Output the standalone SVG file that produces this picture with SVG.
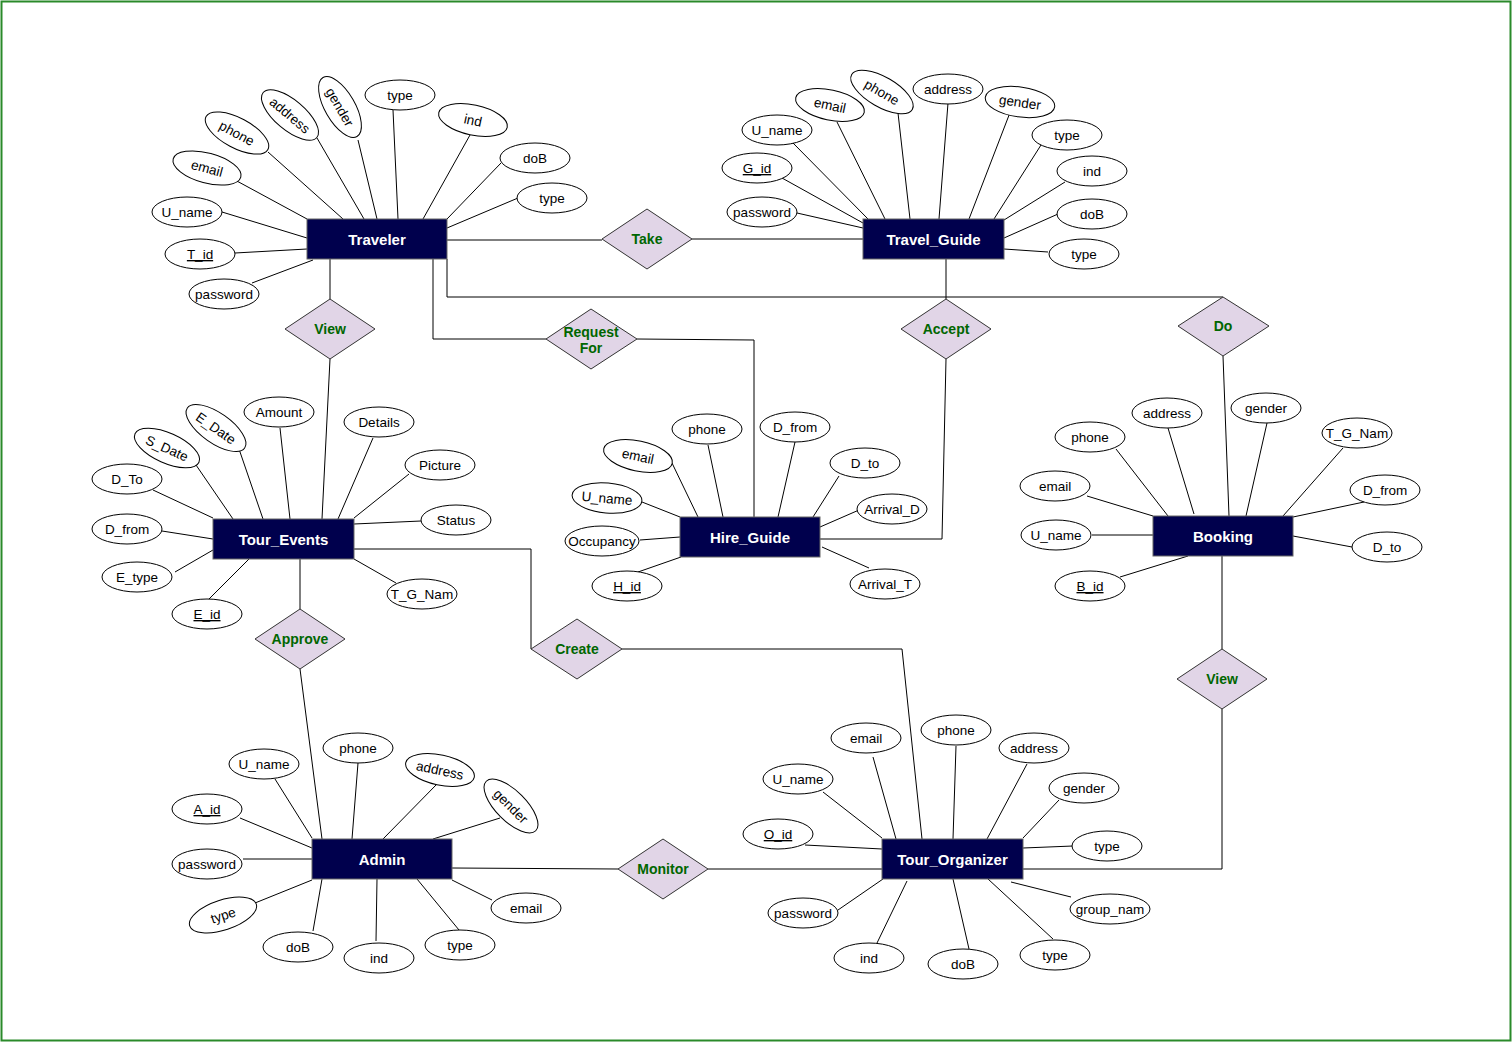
<svg xmlns="http://www.w3.org/2000/svg" width="1512" height="1042" viewBox="0 0 1512 1042">
<style>
.ln{stroke:#000;stroke-width:1;fill:none}
.ent rect{fill:#00004d;stroke:#666;stroke-width:1}
.ent text{fill:#fff;font-family:"Liberation Sans",Arial,sans-serif;font-weight:bold;font-size:15px;text-anchor:middle}
.rel polygon{fill:#e1d5e7;stroke:#333;stroke-width:1}
.rel text{fill:#006600;font-family:"Liberation Sans",Arial,sans-serif;font-weight:bold;font-size:14px;text-anchor:middle}
.at ellipse{fill:#fff;stroke:#000;stroke-width:1}
.at text{fill:#000;font-family:"Liberation Sans",Arial,sans-serif;font-size:13.5px;text-anchor:middle}
.u{text-decoration:underline}
</style>
<rect x="1.5" y="1.5" width="1509" height="1039" fill="#fff" stroke="#2a8a2a" stroke-width="2"/>
<g id="connectors">
<!-- relationship connectors -->
<polyline class="ln" points="447,240 602,240"/>
<polyline class="ln" points="692,239 863,239"/>
<polyline class="ln" points="330,259 330,299"/>
<polyline class="ln" points="330,359 322,519"/>
<polyline class="ln" points="433,259 433,339 546,339"/>
<polyline class="ln" points="637,339 754,340 754,517"/>
<polyline class="ln" points="447,259 447,297 1223,297"/>
<polyline class="ln" points="946,259 946,299"/>
<polyline class="ln" points="946,359 942,539 820,539"/>
<polyline class="ln" points="1223,356 1229,516"/>
<polyline class="ln" points="1222,556 1222,649"/>
<polyline class="ln" points="1222,709 1222,869 1023,869"/>
<polyline class="ln" points="354,549 531,549 531,649"/>
<polyline class="ln" points="622,649 902,649 922,839"/>
<polyline class="ln" points="300,559 300,609"/>
<polyline class="ln" points="300,669 322,839"/>
<polyline class="ln" points="452,868 618,869"/>
<polyline class="ln" points="708,869 882,869"/>
<!-- Traveler attributes -->
<line class="ln" x1="393" y1="110" x2="398" y2="219"/>
<line class="ln" x1="470" y1="135" x2="423" y2="219"/>
<line class="ln" x1="501" y1="163" x2="447" y2="219"/>
<line class="ln" x1="518" y1="198" x2="447" y2="228"/>
<line class="ln" x1="358" y1="140" x2="377" y2="219"/>
<line class="ln" x1="317" y1="138" x2="364" y2="219"/>
<line class="ln" x1="268" y1="152" x2="343" y2="219"/>
<line class="ln" x1="235" y1="180" x2="307" y2="219"/>
<line class="ln" x1="222" y1="212" x2="307" y2="238"/>
<line class="ln" x1="235" y1="253" x2="307" y2="249"/>
<line class="ln" x1="252" y1="283" x2="313" y2="260"/>
<!-- Travel_Guide attributes -->
<line class="ln" x1="797" y1="213" x2="863" y2="228"/>
<line class="ln" x1="782" y1="178" x2="863" y2="223"/>
<line class="ln" x1="793" y1="143" x2="868" y2="219"/>
<line class="ln" x1="837" y1="122" x2="885" y2="219"/>
<line class="ln" x1="898" y1="113" x2="910" y2="219"/>
<line class="ln" x1="948" y1="103" x2="939" y2="219"/>
<line class="ln" x1="1011" y1="110" x2="969" y2="219"/>
<line class="ln" x1="1041" y1="145" x2="994" y2="219"/>
<line class="ln" x1="1065" y1="182" x2="1004" y2="220"/>
<line class="ln" x1="1058" y1="214" x2="1004" y2="238"/>
<line class="ln" x1="1048" y1="252" x2="1004" y2="249"/>
<!-- Tour_Events attributes -->
<line class="ln" x1="280" y1="428" x2="290" y2="519"/>
<line class="ln" x1="239" y1="449" x2="263" y2="519"/>
<line class="ln" x1="196" y1="465" x2="233" y2="519"/>
<line class="ln" x1="153" y1="490" x2="213" y2="518"/>
<line class="ln" x1="162" y1="531" x2="213" y2="539"/>
<line class="ln" x1="175" y1="572" x2="213" y2="550"/>
<line class="ln" x1="208" y1="600" x2="249" y2="559"/>
<line class="ln" x1="373" y1="438" x2="338" y2="519"/>
<line class="ln" x1="409" y1="474" x2="354" y2="518"/>
<line class="ln" x1="421" y1="521" x2="354" y2="524"/>
<line class="ln" x1="396" y1="583" x2="354" y2="559"/>
<!-- Hire_Guide attributes -->
<line class="ln" x1="708" y1="445" x2="723" y2="517"/>
<line class="ln" x1="672" y1="463" x2="698" y2="517"/>
<line class="ln" x1="642" y1="502" x2="680" y2="517"/>
<line class="ln" x1="640" y1="540" x2="680" y2="537"/>
<line class="ln" x1="638" y1="572" x2="681" y2="557"/>
<line class="ln" x1="795" y1="442" x2="778" y2="517"/>
<line class="ln" x1="839" y1="476" x2="813" y2="517"/>
<line class="ln" x1="859" y1="510" x2="820" y2="527"/>
<line class="ln" x1="869" y1="568" x2="822" y2="547"/>
<!-- Booking attributes -->
<line class="ln" x1="1168" y1="428" x2="1194" y2="514"/>
<line class="ln" x1="1267" y1="423" x2="1246" y2="516"/>
<line class="ln" x1="1116" y1="449" x2="1168" y2="516"/>
<line class="ln" x1="1087" y1="496" x2="1153" y2="516"/>
<line class="ln" x1="1092" y1="535" x2="1153" y2="535"/>
<line class="ln" x1="1120" y1="577" x2="1188" y2="556"/>
<line class="ln" x1="1343" y1="448" x2="1283" y2="516"/>
<line class="ln" x1="1364" y1="502" x2="1293" y2="517"/>
<line class="ln" x1="1352" y1="547" x2="1293" y2="536"/>
<!-- Admin attributes -->
<line class="ln" x1="275" y1="779" x2="312" y2="838"/>
<line class="ln" x1="358" y1="763" x2="352" y2="839"/>
<line class="ln" x1="437" y1="784" x2="383" y2="839"/>
<line class="ln" x1="500" y1="818" x2="433" y2="839"/>
<line class="ln" x1="240" y1="818" x2="312" y2="848"/>
<line class="ln" x1="243" y1="859" x2="312" y2="859"/>
<line class="ln" x1="255" y1="903" x2="312" y2="880"/>
<line class="ln" x1="313" y1="931" x2="322" y2="879"/>
<line class="ln" x1="376" y1="941" x2="377" y2="879"/>
<line class="ln" x1="459" y1="930" x2="417" y2="879"/>
<line class="ln" x1="492" y1="900" x2="452" y2="880"/>
<!-- Tour_Organizer attributes -->
<line class="ln" x1="873" y1="757" x2="896" y2="839"/>
<line class="ln" x1="956" y1="746" x2="953" y2="839"/>
<line class="ln" x1="1027" y1="764" x2="987" y2="839"/>
<line class="ln" x1="1059" y1="800" x2="1023" y2="838"/>
<line class="ln" x1="823" y1="792" x2="882" y2="838"/>
<line class="ln" x1="805" y1="845" x2="882" y2="849"/>
<line class="ln" x1="1073" y1="846" x2="1023" y2="848"/>
<line class="ln" x1="1071" y1="897" x2="1011" y2="882"/>
<line class="ln" x1="838" y1="910" x2="883" y2="879"/>
<line class="ln" x1="877" y1="943" x2="907" y2="881"/>
<line class="ln" x1="969" y1="949" x2="953" y2="879"/>
<line class="ln" x1="1053" y1="939" x2="988" y2="879"/>
</g>
<!-- Entities -->
<g id="traveler" class="ent"><rect x="307" y="219" width="140" height="40"/><text x="377" y="245">Traveler</text></g>
<g id="travel_guide" class="ent"><rect x="863" y="219" width="141" height="40"/><text x="933.5" y="245">Travel_Guide</text></g>
<g id="tour_events" class="ent"><rect x="213" y="519" width="141" height="40"/><text x="283.5" y="545">Tour_Events</text></g>
<g id="hire_guide" class="ent"><rect x="680" y="517" width="140" height="40"/><text x="750" y="543">Hire_Guide</text></g>
<g id="booking" class="ent"><rect x="1153" y="516" width="140" height="40"/><text x="1223" y="542">Booking</text></g>
<g id="admin" class="ent"><rect x="312" y="839" width="140" height="40"/><text x="382" y="865">Admin</text></g>
<g id="tour_organizer" class="ent"><rect x="882" y="839" width="141" height="40"/><text x="952.5" y="865">Tour_Organizer</text></g>
<!-- Relationships -->
<g id="rel_take" class="rel"><polygon points="602,239 647,209 692,239 647,269"/><text x="647" y="244">Take</text></g>
<g id="rel_view1" class="rel"><polygon points="285,329 330,299 375,329 330,359"/><text x="330" y="334">View</text></g>
<g id="rel_request" class="rel"><polygon points="546,339 591,309 637,339 591,369"/><text x="591" y="337">Request</text><text x="591" y="353">For</text></g>
<g id="rel_accept" class="rel"><polygon points="901,329 946,299 991,329 946,359"/><text x="946" y="334">Accept</text></g>
<g id="rel_do" class="rel"><polygon points="1178,326 1223,297 1269,326 1223,356"/><text x="1223" y="331">Do</text></g>
<g id="rel_approve" class="rel"><polygon points="255,639 300,609 345,639 300,669"/><text x="300" y="644">Approve</text></g>
<g id="rel_create" class="rel"><polygon points="531,649 577,619 622,649 577,679"/><text x="577" y="654">Create</text></g>
<g id="rel_monitor" class="rel"><polygon points="618,869 663,839 708,869 663,899"/><text x="663" y="874">Monitor</text></g>
<g id="rel_view2" class="rel"><polygon points="1177,679 1222,649 1267,679 1222,709"/><text x="1222" y="684">View</text></g>
<!-- Traveler attributes -->
<g id="t_type1" class="at" transform="translate(400,95)"><ellipse rx="35" ry="15"/><text y="5">type</text></g>
<g id="t_ind" class="at" transform="translate(473,120) rotate(12)"><ellipse rx="35" ry="15"/><text y="5">ind</text></g>
<g id="t_dob" class="at" transform="translate(535,158)"><ellipse rx="35" ry="15"/><text y="5">doB</text></g>
<g id="t_type2" class="at" transform="translate(552,198)"><ellipse rx="35" ry="15"/><text y="5">type</text></g>
<g id="t_gender" class="at" transform="translate(340,107) rotate(60)"><ellipse rx="34" ry="15"/><text y="5">gender</text></g>
<g id="t_address" class="at" transform="translate(290,115) rotate(40)"><ellipse rx="35" ry="15"/><text y="5">address</text></g>
<g id="t_phone" class="at" transform="translate(237,133) rotate(28)"><ellipse rx="35" ry="15"/><text y="5">phone</text></g>
<g id="t_email" class="at" transform="translate(207,168) rotate(15)"><ellipse rx="35" ry="15"/><text y="5">email</text></g>
<g id="t_uname" class="at" transform="translate(187,212)"><ellipse rx="35" ry="15"/><text y="5">U_name</text></g>
<g id="t_tid" class="at" transform="translate(200,254)"><ellipse rx="35" ry="15"/><text y="5" class="u">T_id</text></g>
<g id="t_password" class="at" transform="translate(224,294)"><ellipse rx="35" ry="15"/><text y="5">password</text></g>
<!-- Travel_Guide attributes -->
<g id="g_password" class="at" transform="translate(762,212)"><ellipse rx="35" ry="15"/><text y="5">password</text></g>
<g id="g_gid" class="at" transform="translate(757,168)"><ellipse rx="35" ry="15"/><text y="5" class="u">G_id</text></g>
<g id="g_uname" class="at" transform="translate(777,130)"><ellipse rx="35" ry="15"/><text y="5">U_name</text></g>
<g id="g_email" class="at" transform="translate(830,105) rotate(12)"><ellipse rx="35" ry="15"/><text y="5">email</text></g>
<g id="g_phone" class="at" transform="translate(882,92) rotate(30)"><ellipse rx="35" ry="15"/><text y="5">phone</text></g>
<g id="g_address" class="at" transform="translate(948,89)"><ellipse rx="35" ry="15"/><text y="5">address</text></g>
<g id="g_gender" class="at" transform="translate(1020,102) rotate(8)"><ellipse rx="35" ry="15"/><text y="5">gender</text></g>
<g id="g_type1" class="at" transform="translate(1067,135)"><ellipse rx="35" ry="15"/><text y="5">type</text></g>
<g id="g_ind" class="at" transform="translate(1092,171)"><ellipse rx="35" ry="15"/><text y="5">ind</text></g>
<g id="g_dob" class="at" transform="translate(1092,214)"><ellipse rx="35" ry="15"/><text y="5">doB</text></g>
<g id="g_type2" class="at" transform="translate(1084,254)"><ellipse rx="35" ry="15"/><text y="5">type</text></g>
<!-- Tour_Events attributes -->
<g id="e_amount" class="at" transform="translate(279,412)"><ellipse rx="35" ry="15"/><text y="5">Amount</text></g>
<g id="e_edate" class="at" transform="translate(216,428) rotate(35)"><ellipse rx="35" ry="15"/><text y="5">E_Date</text></g>
<g id="e_sdate" class="at" transform="translate(167,448) rotate(24)"><ellipse rx="35" ry="15"/><text y="5">S_Date</text></g>
<g id="e_dto" class="at" transform="translate(127,479)"><ellipse rx="35" ry="15"/><text y="5">D_To</text></g>
<g id="e_dfrom" class="at" transform="translate(127,529)"><ellipse rx="35" ry="15"/><text y="5">D_from</text></g>
<g id="e_etype" class="at" transform="translate(137,577)"><ellipse rx="35" ry="15"/><text y="5">E_type</text></g>
<g id="e_eid" class="at" transform="translate(207,614)"><ellipse rx="35" ry="15"/><text y="5" class="u">E_id</text></g>
<g id="e_details" class="at" transform="translate(379,422)"><ellipse rx="35" ry="15"/><text y="5">Details</text></g>
<g id="e_picture" class="at" transform="translate(440,465)"><ellipse rx="35" ry="15"/><text y="5">Picture</text></g>
<g id="e_status" class="at" transform="translate(456,520)"><ellipse rx="35" ry="15"/><text y="5">Status</text></g>
<g id="e_tgnam" class="at" transform="translate(422,594)"><ellipse rx="35" ry="15"/><text y="5">T_G_Nam</text></g>
<!-- Hire_Guide attributes -->
<g id="h_phone" class="at" transform="translate(707,429)"><ellipse rx="35" ry="15"/><text y="5">phone</text></g>
<g id="h_email" class="at" transform="translate(638,456) rotate(12)"><ellipse rx="35" ry="15"/><text y="5">email</text></g>
<g id="h_uname" class="at" transform="translate(607,498) rotate(5)"><ellipse rx="35" ry="15"/><text y="5">U_name</text></g>
<g id="h_occupancy" class="at" transform="translate(602,541)"><ellipse rx="37" ry="15"/><text y="5">Occupancy</text></g>
<g id="h_hid" class="at" transform="translate(627,586)"><ellipse rx="35" ry="15"/><text y="5" class="u">H_id</text></g>
<g id="h_dfrom" class="at" transform="translate(795,427)"><ellipse rx="35" ry="15"/><text y="5">D_from</text></g>
<g id="h_dto" class="at" transform="translate(865,463)"><ellipse rx="35" ry="15"/><text y="5">D_to</text></g>
<g id="h_arrivald" class="at" transform="translate(892,509)"><ellipse rx="35" ry="15"/><text y="5" fill="#333">Arrival_D</text></g>
<g id="h_arrivalt" class="at" transform="translate(885,584)"><ellipse rx="35" ry="15"/><text y="5">Arrival_T</text></g>
<!-- Booking attributes -->
<g id="b_address" class="at" transform="translate(1167,413)"><ellipse rx="35" ry="15"/><text y="5">address</text></g>
<g id="b_gender" class="at" transform="translate(1266,408)"><ellipse rx="35" ry="15"/><text y="5">gender</text></g>
<g id="b_phone" class="at" transform="translate(1090,437)"><ellipse rx="35" ry="15"/><text y="5">phone</text></g>
<g id="b_email" class="at" transform="translate(1055,486)"><ellipse rx="35" ry="15"/><text y="5">email</text></g>
<g id="b_uname" class="at" transform="translate(1056,535)"><ellipse rx="35" ry="15"/><text y="5">U_name</text></g>
<g id="b_bid" class="at" transform="translate(1090,586)"><ellipse rx="35" ry="15"/><text y="5" class="u">B_id</text></g>
<g id="b_tgnam" class="at" transform="translate(1357,433)"><ellipse rx="35" ry="15"/><text y="5">T_G_Nam</text></g>
<g id="b_dfrom" class="at" transform="translate(1385,490)"><ellipse rx="35" ry="15"/><text y="5">D_from</text></g>
<g id="b_dto" class="at" transform="translate(1387,547)"><ellipse rx="35" ry="15"/><text y="5">D_to</text></g>
<!-- Admin attributes -->
<g id="a_uname" class="at" transform="translate(264,764)"><ellipse rx="35" ry="15"/><text y="5">U_name</text></g>
<g id="a_phone" class="at" transform="translate(358,748)"><ellipse rx="35" ry="15"/><text y="5">phone</text></g>
<g id="a_address" class="at" transform="translate(440,770) rotate(12)"><ellipse rx="35" ry="15"/><text y="5">address</text></g>
<g id="a_gender" class="at" transform="translate(511,806) rotate(45)"><ellipse rx="35" ry="15"/><text y="5">gender</text></g>
<g id="a_aid" class="at" transform="translate(207,809)"><ellipse rx="35" ry="15"/><text y="5" class="u">A_id</text></g>
<g id="a_password" class="at" transform="translate(207,864)"><ellipse rx="35" ry="15"/><text y="5">password</text></g>
<g id="a_type1" class="at" transform="translate(223,915) rotate(-18)"><ellipse rx="35" ry="15"/><text y="5">type</text></g>
<g id="a_dob" class="at" transform="translate(298,947)"><ellipse rx="35" ry="15"/><text y="5">doB</text></g>
<g id="a_ind" class="at" transform="translate(379,958)"><ellipse rx="35" ry="15"/><text y="5">ind</text></g>
<g id="a_type2" class="at" transform="translate(460,945)"><ellipse rx="35" ry="15"/><text y="5">type</text></g>
<g id="a_email" class="at" transform="translate(526,908)"><ellipse rx="35" ry="15"/><text y="5">email</text></g>
<!-- Tour_Organizer attributes -->
<g id="o_email" class="at" transform="translate(866,738)"><ellipse rx="35" ry="15"/><text y="5">email</text></g>
<g id="o_phone" class="at" transform="translate(956,730)"><ellipse rx="35" ry="15"/><text y="5">phone</text></g>
<g id="o_address" class="at" transform="translate(1034,748)"><ellipse rx="35" ry="15"/><text y="5">address</text></g>
<g id="o_gender" class="at" transform="translate(1084,788)"><ellipse rx="35" ry="15"/><text y="5">gender</text></g>
<g id="o_uname" class="at" transform="translate(798,779)"><ellipse rx="35" ry="15"/><text y="5">U_name</text></g>
<g id="o_oid" class="at" transform="translate(778,834)"><ellipse rx="35" ry="15"/><text y="5" class="u">O_id</text></g>
<g id="o_type1" class="at" transform="translate(1107,846)"><ellipse rx="35" ry="15"/><text y="5">type</text></g>
<g id="o_groupnam" class="at" transform="translate(1110,909)"><ellipse rx="40" ry="15"/><text y="5">group_nam</text></g>
<g id="o_password" class="at" transform="translate(803,913)"><ellipse rx="35" ry="15"/><text y="5">password</text></g>
<g id="o_ind" class="at" transform="translate(869,958)"><ellipse rx="35" ry="15"/><text y="5">ind</text></g>
<g id="o_dob" class="at" transform="translate(963,964)"><ellipse rx="35" ry="15"/><text y="5">doB</text></g>
<g id="o_type2" class="at" transform="translate(1055,955)"><ellipse rx="35" ry="15"/><text y="5">type</text></g>
</svg>
